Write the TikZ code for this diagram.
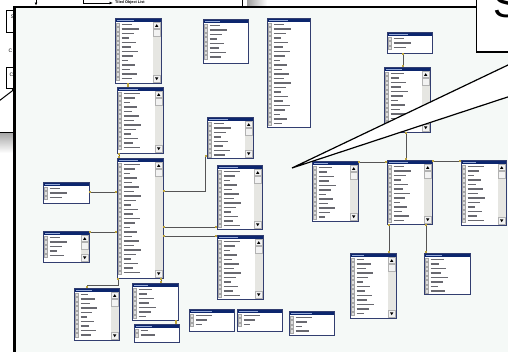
\documentclass[tikz,border=0pt]{standalone}
\usepackage{fontspec}
\setsansfont{Liberation Sans}
\usetikzlibrary{arrows.meta,calc}
\definecolor{navy}{RGB}{12,38,110}
\definecolor{tblline}{RGB}{50,62,112}
\definecolor{framebg}{RGB}{245,249,247}
\definecolor{conncol}{RGB}{85,85,85}
\definecolor{keycol}{RGB}{190,165,60}
\definecolor{txtcol}{RGB}{105,105,112}
\definecolor{cellcol}{RGB}{222,222,222}
\definecolor{trackcol}{RGB}{230,230,226}
\definecolor{ttlcol}{RGB}{150,170,215}
\tikzset{
  tbl/.style={draw=tblline,fill=white,line width=1pt,inner sep=0pt,outer sep=0pt,rectangle},
  keycell/.style={draw=gray!70,fill=cellcol,line width=0.3pt},
  rowtxt/.style={draw=txtcol,line width=1.5pt},
  titletxt/.style={draw=ttlcol,line width=0.9pt},
  sbbtn/.style={draw=gray!60,fill=gray!10,line width=0.3pt},
  conn/.style={draw=conncol,line width=0.9pt,
    {Rectangle[length=1.8pt,width=2.6pt,color=keycol]}-{Rectangle[length=1.8pt,width=2.6pt,color=keycol]}},
  frameline/.style={line width=2.2pt,black},
  bgbox/.style={draw=black,fill=white,line width=0.7pt,inner sep=0pt,outer sep=0pt},
  tinylbl/.style={font=\fontsize{5}{5}\selectfont\sffamily,inner sep=0pt},
}
\newcommand\dbtable[6]{%
  \pgfmathsetmacro\tbW{#4-#2}%
  \pgfmathsetmacro\tbH{#5-#3}%
  \node[tbl,minimum width=\tbW pt,minimum height=\tbH pt,anchor=north west] (#1) at (#2,#3) {};
  \pgfmathtruncatemacro\tbN{(#5-#3-5)/4.5}%
  \foreach \i in {1,...,\tbN}{%
    \pgfmathsetmacro\yy{#3+4.4+(\i-1)*4.5}%
    \pgfmathtruncatemacro\ll{6+mod(\i*7+#2*3,12)}%
    \draw[keycell] (#2+0.9,\yy+0.4) rectangle (#2+4.6,\yy+4.1);
    \draw[rowtxt] (#2+6.5,\yy+2.25) -- ++(\ll,0);
  }
  \ifnum#6=1\relax
    \fill[trackcol] (#4-8,#3+4) rectangle (#4-0.4,#5-0.4);
    \draw[sbbtn] (#4-7.6,#3+4.6) rectangle (#4-1,#3+10.5);
    \fill[black] (#4-4.3,#3+6.2) -- (#4-6,#3+8.9) -- (#4-2.6,#3+8.9) -- cycle;
    \draw[sbbtn] (#4-7.6,#3+11.2) rectangle (#4-1,#3+18);
    \draw[sbbtn] (#4-7.6,#5-7.5) rectangle (#4-1,#5-1.2);
    \fill[black] (#4-4.3,#5-2.8) -- (#4-6,#5-5.6) -- (#4-2.6,#5-5.6) -- cycle;
  \fi
  \fill[navy] (#2,#3) rectangle (#4,#3+4);
  \pgfmathtruncatemacro\tl{12+mod(#2,10)}%
  \draw[titletxt] (#2+2,#3+2) -- ++(\tl,0);
  \draw[tbl,fill=none] (#1.north west) rectangle (#1.south east);
}
\begin{document}
\begin{tikzpicture}[x=1pt,y=-1pt]
\useasboundingbox (0,0) rectangle (508,351);
\fill[white] (0,0) rectangle (508,351);

% --- window behind (left strip and top) ---
\shade[left color=gray!75,right color=white] (247,-1) rectangle (267,7);
\draw[line width=0.6pt] (242,-1) -- (242,7);
\draw[line width=0.8pt,-{Latex[length=3.5pt,width=3pt]}] (83,-1) -- (83,3) -- (113,3);
\node[anchor=west,inner sep=0pt,font=\fontsize{3.8}{4}\selectfont\sffamily\bfseries] (tol) at (115,3) {Tiled Object List};
\draw[line width=0.7pt,-{Latex[length=3pt,width=3pt]}] (36,-3) -- (36,5.5);
\node[bgbox,minimum width=10pt,minimum height=22pt,anchor=north west] (bs) at (6,10) {};
\node[tinylbl] (bsl) at (12.5,17) {S};
\node[tinylbl] (cl) at (10.5,51) {C};
\node[bgbox,minimum width=10pt,minimum height=21pt,anchor=north west] (bc) at (6,67) {};
\node[tinylbl] (bcl) at (11.5,74.5) {C};
\coordinate (arrs) at (-1,101);
\draw[line width=1pt,-{Latex[length=4pt,width=3.5pt]}] (arrs) -- (bc.south east);
\shade[top color=gray!70,bottom color=white] (0,132.5) rectangle (15,153);
\draw[line width=1pt] (0,132) -- (15,132);

% --- main frame ---
\fill[framebg] (14.5,7) rectangle (520,360);
\draw[frameline] (14.5,360) -- (14.5,7) -- (477,7);

% --- tables ---
\dbtable{T1}{115}{18}{161}{83}{1}
\dbtable{T2}{203}{19}{248}{63}{0}
\dbtable{T3}{267}{18}{310}{127}{0}
\dbtable{T4}{387}{32}{432}{53}{0}
\dbtable{T5}{384}{67}{430}{132}{1}
\dbtable{T6}{117}{87}{163}{153}{1}
\dbtable{T7}{207}{117}{253}{158}{1}
\dbtable{T8}{117}{158}{163}{278}{1}
\dbtable{T9}{217}{165}{262}{229}{1}
\dbtable{T10}{217}{235}{263}{299}{1}
\dbtable{T11}{43}{182}{89}{203}{0}
\dbtable{T12}{43}{231}{89}{262}{1}
\dbtable{T13}{74}{288}{119}{340}{1}
\dbtable{T14}{132}{283}{178}{320}{0}
\dbtable{T15}{134}{324}{179}{342}{0}
\dbtable{T16}{189}{309}{234}{331}{0}
\dbtable{T17}{237}{309}{282}{331}{0}
\dbtable{T18}{289}{311}{334}{335}{0}
\dbtable{T19}{312}{161}{358}{221}{1}
\dbtable{T20}{387}{160}{432}{224}{1}
\dbtable{T21}{461}{160}{506}{225}{1}
\dbtable{T22}{350}{253}{396}{318}{1}
\dbtable{T23}{424}{253}{470}{294}{0}

% --- connectors ---
\draw[conn] (T1.south -| 128,0) -- (T6.north -| 128,0);
\draw[conn] (T6.south -| 119,0) -- (T8.north -| 119,0);
\draw[conn] (T8.east |- 0,191) -| (205,156) -- (T7.west |- 0,156);
\draw[conn] (T8.east |- 0,227) -- (T9.west |- 0,227);
\draw[conn] (T8.east |- 0,236) -- (T10.west |- 0,236);
\draw[conn] (T11.east |- 0,192) -- (T8.west |- 0,192);
\draw[conn] (T12.east |- 0,232) -- (T8.west |- 0,232);
\draw[conn] (T8.south -| 118,0) |- (87,285) -- (T13.north -| 87,0);
\draw[conn] (T8.south -| 161,0) -- (T14.north -| 161,0);
\draw[conn] (T14.south -| 176,0) -- (T15.north -| 176,0);
\draw[conn] (T4.south -| 403,0) -- (T5.north -| 403,0);
\draw[conn] (T5.south -| 406,0) -- (T20.north -| 406,0);
\draw[conn] (T19.east |- 0,162) -- (T20.west |- 0,162);
\draw[conn] (T20.east |- 0,161) -- (T21.west |- 0,161);
\draw[conn] (T20.south -| 389,0) -- (T22.north -| 389,0);
\draw[conn] (T20.south -| 426,0) -- (T23.north -| 426,0);

% --- callout ---
\draw[fill=white,line width=1.4pt] (476.5,-3) rectangle (516,52);
\node[anchor=south west,inner sep=0pt,font=\fontsize{40}{40}\selectfont\sffamily] (bigS) at (493,18) {S};
\coordinate (tip) at (292,168);
\fill[white] (525,56.9) -- (tip) -- (525,91.3) -- cycle;
\draw[line width=1.2pt] (525,56.9) -- (tip) -- (525,91.3);
\end{tikzpicture}
\end{document}
